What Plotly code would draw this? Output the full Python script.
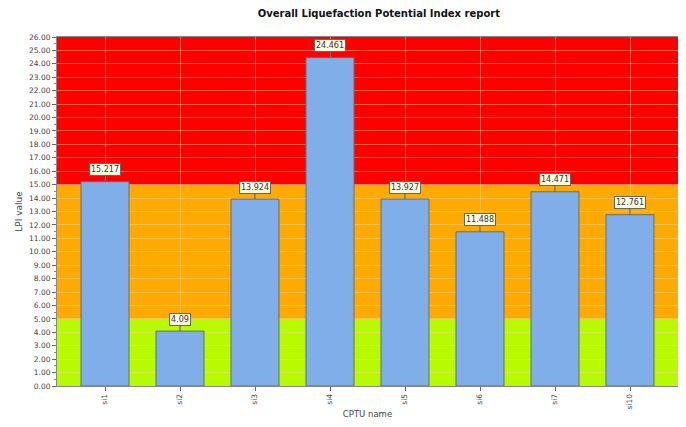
import plotly.graph_objects as go

categories = ["si1", "si2", "si3", "si4", "si5", "si6", "si7", "si10"]
lpi_values = [15.217, 4.09, 13.924, 24.461, 13.927, 11.488, 14.471, 12.761]
value_labels = ["15.217", "4.09", "13.924", "24.461", "13.927", "11.488", "14.471", "12.761"]
band_limits = [0, 5, 15, 26]
band_colors = ["#B8FA00", "#FFAA00", "#FF0000"]
y_ticks = [i for i in range(0, 27)]

fig = go.Figure()
fig.add_trace(go.Bar(
    x=categories, y=lpi_values,
    marker=dict(color="#7FAEE8", line=dict(color="#66706A", width=1)),
    width=0.64, hoverinfo="x+y",
))

for lo, hi, col in zip(band_limits[:-1], band_limits[1:], band_colors):
    fig.add_shape(type="rect", xref="paper", yref="y", x0=0, x1=1, y0=lo, y1=hi,
                  fillcolor=col, line=dict(width=0), layer="below")

for c, v, t in zip(categories, lpi_values, value_labels):
    fig.add_annotation(x=c, y=v, text=t, showarrow=True, arrowhead=0, arrowwidth=1,
                       arrowcolor="#555555", ax=0, ay=-12, bgcolor="#FFFFE8",
                       bordercolor="#666666", borderwidth=1, borderpad=1,
                       font=dict(size=8, color="#333333", family="DejaVu Sans"))

fig.update_layout(
    width=678, height=419,
    margin=dict(l=49, r=8, t=29, b=41),
    paper_bgcolor="white", plot_bgcolor="white",
    font=dict(family="DejaVu Sans", size=9, color="#444444"),
    title=dict(text="<b>Overall Liquefaction Potential Index report</b>", x=0.547, xanchor="center",
               y=1 - 5 / 419, yanchor="middle", font=dict(size=10, color="#111111")),
    showlegend=False,
    bargap=0.36,
)
fig.update_xaxes(
    title=dict(text="CPTU name", font=dict(size=8.5), standoff=2),
    range=[-0.64, 7.64], automargin=False,
    tickangle=-90, ticks="outside", ticklen=4, tickcolor="#666666",
    showgrid=True, gridcolor="rgba(255,215,160,0.45)", gridwidth=1,
    showline=True, linecolor="#888888", mirror=True, tickfont=dict(size=7.5),
)
fig.update_yaxes(
    title=dict(text="LPI value", font=dict(size=9), standoff=4),
    range=[0, 26], tickvals=y_ticks, ticktext=[f"{v:.2f}" for v in y_ticks],
    automargin=False,
    ticks="outside", ticklen=4, tickcolor="#666666",
    minor=dict(ticks="outside", ticklen=2, dtick=0.5, tickcolor="#888888", showgrid=False),
    showgrid=True, gridcolor="rgba(255,215,160,0.45)", gridwidth=1,
    showline=True, linecolor="#888888", mirror=True, tickfont=dict(size=7.5), zeroline=False,
)

fig.write_html("out.html")
